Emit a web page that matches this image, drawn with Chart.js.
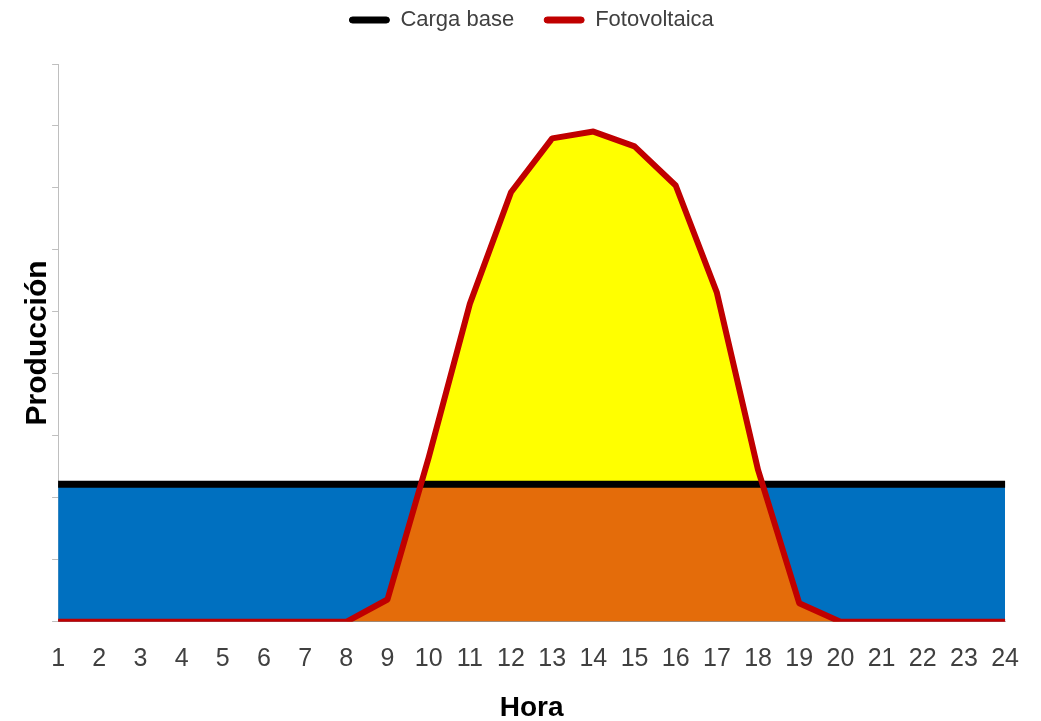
<!DOCTYPE html>
<html>
<head>
<meta charset="utf-8">
<script src="https://cdn.jsdelivr.net/npm/chart.js@4.4.1/dist/chart.umd.min.js"></script>
<style>
    html, body { margin: 0; padding: 0; background: #ffffff; }
    #wrap { width: 1041px; height: 721px; }
</style>
</head>
<body>
<div id="wrap"><canvas id="chart"></canvas></div>
<script>
// Data
const hours = ['1', '2', '3', '4', '5', '6', '7', '8', '9', '10', '11', '12',
    '13', '14', '15', '16', '17', '18', '19', '20', '21', '22', '23', '24'];
const fotovoltaica = [0, 0, 0, 0, 0, 0, 0, 0, 0.36, 2.65, 5.13, 6.93,
    7.8, 7.91, 7.67, 7.04, 5.31, 2.45, 0.3, 0, 0, 0, 0, 0];
const cargaBase = [2.22, 2.22, 2.22, 2.22, 2.22, 2.22, 2.22, 2.22, 2.22, 2.22, 2.22, 2.22,
    2.22, 2.22, 2.22, 2.22, 2.22, 2.22, 2.22, 2.22, 2.22, 2.22, 2.22, 2.22];
const yMax = 9;

const font = "'Liberation Sans', Arial, sans-serif";
const textColor = '#404040';
const axisGray = '#bfbfbf';

const ctx = document.getElementById('chart').getContext('2d');
const chart = new Chart(ctx, {
    type: 'line',
    data: {
        labels: hours,
        datasets: [{
            // 0: PV line, yellow where it goes above the base load
            label: 'Fotovoltaica',
            data: fotovoltaica,
            borderColor: '#c00000',
            backgroundColor: '#c00000',
            borderWidth: 6,
            borderJoinStyle: 'round',
            pointRadius: 0,
            tension: 0,
            fill: { target: 1, above: '#ffff00', below: 'rgba(0,0,0,0)' }
        }, {
            // 1: base load line
            label: 'Carga base',
            data: cargaBase,
            borderColor: '#000000',
            backgroundColor: '#000000',
            borderWidth: 7,
            pointRadius: 0,
            tension: 0,
            fill: false
        }, {
            // 2: PV area (orange)
            label: 'pv-area',
            data: fotovoltaica,
            borderColor: 'rgba(0,0,0,0)',
            borderWidth: 0,
            pointRadius: 0,
            tension: 0,
            backgroundColor: '#e46c0a',
            fill: 'origin'
        }, {
            // 3: base load area (blue)
            label: 'base-area',
            data: cargaBase,
            borderColor: 'rgba(0,0,0,0)',
            borderWidth: 0,
            pointRadius: 0,
            tension: 0,
            backgroundColor: '#0070c0',
            fill: 'origin'
        }]
    },
    options: {
        responsive: true,
        maintainAspectRatio: false,
        animation: false,
        layout: {
            padding: { left: 23, right: 28, top: -21, bottom: 0 }
        },
        scales: {
            x: {
                offset: false,
                grid: { display: false, drawTicks: false },
                border: { display: true, color: axisGray, width: 1 },
                ticks: {
                    color: textColor,
                    padding: 22,
                    maxRotation: 0,
                    autoSkip: false,
                    font: { family: font, size: 25 }
                },
                title: {
                    display: true,
                    text: 'Hora',
                    color: '#000000',
                    padding: { top: 0, bottom: 0 },
                    font: { family: font, size: 28, weight: 'bold', lineHeight: 0.9 }
                }
            },
            y: {
                min: 0,
                max: yMax,
                ticks: { display: false, stepSize: 1 },
                grid: {
                    display: true,
                    drawOnChartArea: false,
                    drawTicks: true,
                    tickLength: 6,
                    color: axisGray
                },
                border: { display: true, color: axisGray, width: 1 },
                title: {
                    display: true,
                    text: 'Producción',
                    color: '#000000',
                    padding: { top: 0, bottom: 0 },
                    font: { family: font, size: 30, weight: 'bold', lineHeight: 0.97 }
                }
            }
        },
        plugins: {
            filler: { drawTime: 'beforeDatasetsDraw' },
            tooltip: { enabled: false },
            // empty spacer between the legend and the plot
            title: {
                display: true,
                text: '',
                fullSize: false,
                weight: 500,
                padding: { top: 0, bottom: 22 },
                font: { size: 1, lineHeight: 1 }
            },
            legend: {
                display: true,
                position: 'top',
                fullSize: false,
                reverse: true,
                labels: {
                    color: textColor,
                    boxWidth: 40,
                    boxHeight: 6,
                    padding: 30,
                    useBorderRadius: true,
                    borderRadius: 3,
                    font: { family: font, size: 22 },
                    filter: function (item) {
                        return item.datasetIndex < 2;
                    },
                    generateLabels: function (c) {
                        const items = Chart.defaults.plugins.legend.labels.generateLabels(c);
                        items.forEach(function (it) {
                            it.lineWidth = 1;
                        });
                        return items;
                    }
                }
            }
        }
    }
});
</script>
</body>
</html>
